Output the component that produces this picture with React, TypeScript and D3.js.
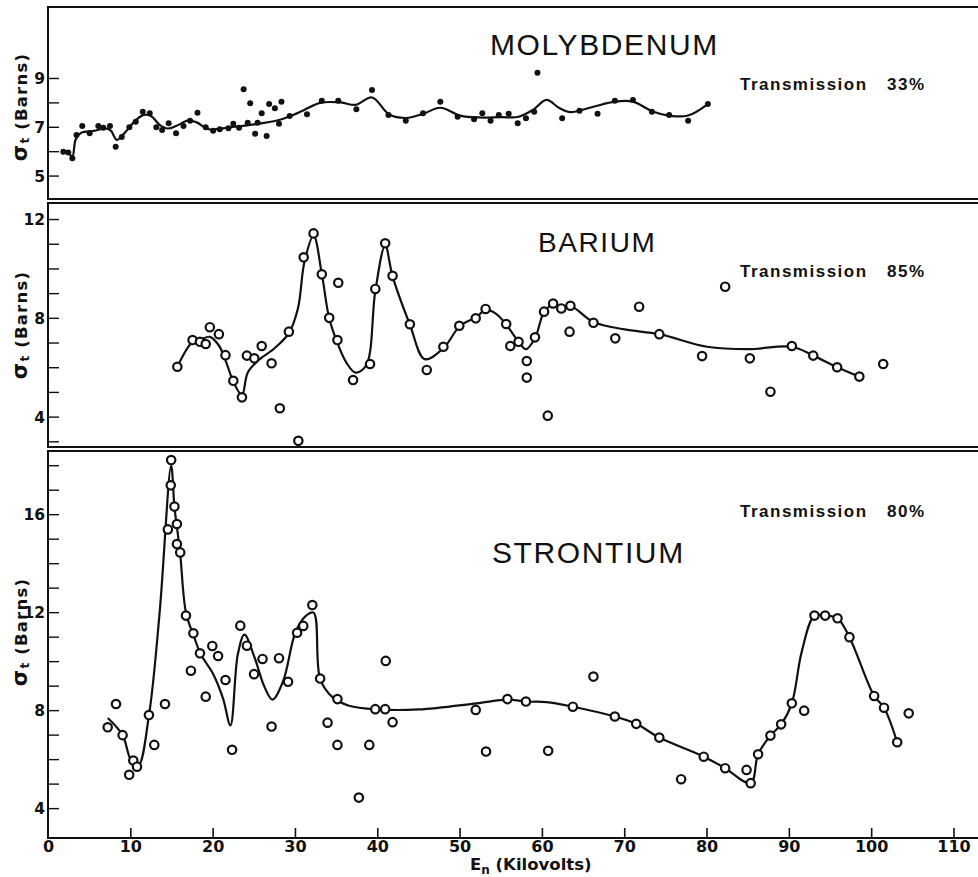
import React from "react";
import * as d3 from "d3";

const W = 978;
const H = 877;

// molybdenum: measured points (kV, barns) and the drawn fit
const moKv = [1.8, 2.4, 2.9, 3.4, 4.1, 5.0, 6.05, 6.66, 7.47, 8.16, 8.9, 9.82, 10.6, 11.45, 12.3, 13.1, 13.8, 14.6, 15.5, 16.4, 17.2, 18.1, 19.1, 20.0, 20.8, 21.85, 22.45, 23.15, 23.7, 24.2, 24.5, 25.1, 25.4, 25.9, 26.5, 26.8, 27.5, 28.0, 28.3, 29.3, 31.4, 33.2, 35.2, 37.4, 39.3, 41.3, 43.4, 45.5, 47.6, 49.7, 51.7, 52.7, 53.7, 54.7, 55.9, 57.0, 58.0, 59.0, 59.4, 62.4, 64.5, 66.7, 68.8, 71.0, 73.3, 75.4, 77.7, 80.1];
const moSigma = [6.0, 5.97, 5.73, 6.68, 7.05, 6.75, 7.05, 6.98, 7.05, 6.2, 6.6, 7.0, 7.23, 7.64, 7.57, 7.0, 6.89, 7.16, 6.75, 7.05, 7.27, 7.6, 7.0, 6.86, 6.92, 6.96, 7.14, 6.98, 8.56, 7.19, 7.98, 6.73, 7.19, 7.57, 6.64, 7.95, 7.78, 7.14, 8.05, 7.46, 7.53, 8.09, 8.09, 7.74, 8.53, 7.5, 7.27, 7.57, 8.05, 7.43, 7.33, 7.57, 7.27, 7.5, 7.55, 7.16, 7.37, 7.64, 9.24, 7.37, 7.68, 7.55, 8.09, 8.12, 7.64, 7.5, 7.27, 7.95];
const moFitKv = [1.8, 2.4, 2.9, 3.3, 4.0, 5.5, 7.0, 7.6, 8.3, 9.2, 10.5, 11.5, 12.5, 13.5, 14.5, 15.5, 17.0, 18.0, 19.5, 22, 25, 28, 29.3, 31, 33, 35.5, 37.3, 39.3, 41.4, 43.4, 45.5, 47.6, 50, 52.5, 55, 57, 58.8, 60.5, 62, 63.3, 66, 68.8, 71, 73.4, 75.5, 77.7, 80.1];
const moFitSigma = [6.0, 5.95, 5.8, 6.5, 6.78, 6.85, 6.95, 6.85, 6.48, 6.75, 7.25, 7.5, 7.45, 7.1, 6.95, 7.05, 7.28, 7.2, 6.92, 7.0, 7.12, 7.3, 7.45, 7.7, 8.0, 8.02, 7.92, 8.22, 7.52, 7.38, 7.55, 7.8, 7.48, 7.4, 7.42, 7.42, 7.7, 8.12, 7.8, 7.62, 7.82, 8.05, 8.05, 7.65, 7.47, 7.48, 7.95];

// barium
const baKv = [15.65, 17.5, 18.4, 19.1, 19.6, 20.7, 21.5, 22.45, 23.5, 24.1, 25.0, 25.9, 27.1, 28.1, 29.2, 30.35, 31.0, 32.2, 33.2, 34.1, 35.2, 35.1, 37.0, 39.06, 39.7, 40.9, 41.8, 43.9, 45.95, 47.97, 49.9, 51.9, 53.1, 55.6, 56.1, 57.1, 58.1, 58.1, 59.1, 60.2, 60.65, 61.3, 62.3, 63.4, 63.3, 66.2, 68.85, 71.75, 74.2, 79.4, 82.2, 85.2, 87.7, 90.3, 92.9, 95.8, 98.5, 101.4];
const baSigma = [6.04, 7.12, 7.05, 6.96, 7.64, 7.36, 6.51, 5.47, 4.8, 6.49, 6.38, 6.88, 6.18, 4.36, 7.46, 3.04, 10.47, 11.44, 9.78, 8.02, 9.44, 7.12, 5.5, 6.15, 9.19, 11.04, 9.72, 7.76, 5.91, 6.85, 7.7, 8.0, 8.38, 7.77, 6.88, 7.05, 6.27, 5.6, 7.23, 8.27, 4.06, 8.6, 8.4, 8.51, 7.46, 7.82, 7.19, 8.47, 7.36, 6.47, 9.28, 6.38, 5.03, 6.88, 6.49, 6.02, 5.64, 6.15];
const baFitKv = [15.65, 17.5, 18.5, 19.6, 20.7, 21.5, 22.5, 23.5, 24.2, 25.5, 27.5, 29.2, 30.3, 31.1, 32.2, 33.2, 34.1, 35.1, 36.2, 37.3, 38.6, 39.7, 40.9, 41.8, 43.9, 45.7, 48.0, 50.0, 52.0, 53.1, 54.3, 55.6, 57.1, 58.0, 59.1, 60.2, 61.3, 62.3, 63.4, 66.2, 70, 74.2, 80, 85, 90.3, 92.9, 95.8, 98.5];
const baFitSigma = [6.04, 7.05, 7.15, 7.25, 6.9, 6.3, 5.4, 4.9, 5.8, 6.3, 6.8, 7.4, 8.4, 10.3, 11.35, 9.8, 8.0, 7.0, 6.2, 5.8, 6.1, 9.1, 10.95, 9.7, 7.75, 6.35, 6.8, 7.7, 8.05, 8.35, 8.2, 7.75, 7.05, 6.75, 7.2, 8.25, 8.55, 8.4, 8.5, 7.85, 7.55, 7.36, 6.85, 6.75, 6.85, 6.49, 6.02, 5.64];

// strontium
const srKv = [7.19, 8.2, 9.0, 9.8, 10.3, 10.75, 12.2, 12.85, 14.15, 14.5, 14.9, 14.85, 15.3, 15.6, 15.6, 16.0, 16.7, 17.6, 17.3, 18.4, 19.1, 19.9, 20.6, 21.5, 22.3, 23.3, 24.1, 24.97, 26.0, 27.1, 28.0, 29.1, 30.2, 30.95, 32.05, 33.0, 33.9, 35.1, 35.1, 37.7, 38.97, 39.7, 40.9, 40.97, 41.8, 51.9, 53.15, 55.75, 58.0, 60.7, 63.7, 66.2, 68.8, 71.4, 74.2, 76.85, 79.6, 82.2, 84.8, 85.3, 86.2, 87.7, 89.0, 90.3, 91.8, 93.05, 94.35, 95.85, 97.3, 100.3, 101.5, 103.1, 104.5];
const srSigma = [7.32, 8.27, 7.0, 5.38, 5.96, 5.71, 7.82, 6.6, 8.27, 15.4, 18.23, 17.2, 16.33, 15.62, 14.8, 14.46, 11.88, 11.16, 9.63, 10.34, 8.57, 10.64, 10.23, 9.25, 6.4, 11.47, 10.65, 9.49, 10.11, 7.35, 10.14, 9.18, 11.18, 11.46, 12.31, 9.31, 7.51, 8.47, 6.6, 4.45, 6.6, 8.06, 8.06, 10.03, 7.53, 8.03, 6.33, 8.47, 8.37, 6.36, 8.16, 9.39, 7.76, 7.46, 6.9, 5.2, 6.12, 5.65, 5.58, 5.04, 6.22, 6.98, 7.44, 8.3, 8.0, 11.88, 11.88, 11.77, 11.0, 8.6, 8.12, 6.71, 7.89];
const srFitKv = [7.2, 9.0, 10.0, 10.9, 12.2, 13.5, 14.9, 15.3, 15.6, 16.0, 16.7, 17.7, 18.5, 20.0, 21.2, 22.1, 23.0, 23.8, 25.0, 26.2, 27.2, 28.5, 30.0, 31.2, 32.2, 33.0, 34.5, 36.5, 40.0, 45.0, 52.0, 55.8, 58.0, 60.5, 63.7, 68.8, 71.4, 74.2, 79.6, 82.2, 85.3, 86.2, 87.7, 89.0, 90.3, 91.5, 93.05, 94.35, 95.85, 97.3, 100.3, 101.5, 103.1];
const srFitSigma = [7.7, 7.0, 6.0, 5.75, 7.8, 12.0, 18.0, 16.3, 15.5, 14.4, 12.0, 11.0, 10.3, 9.5, 8.5, 7.4, 10.3, 11.1, 10.2, 9.0, 8.45, 9.2, 11.2, 11.85, 12.0, 9.3, 8.55, 8.2, 8.05, 8.05, 8.3, 8.45, 8.37, 8.35, 8.16, 7.76, 7.46, 6.9, 6.12, 5.65, 5.04, 6.22, 6.98, 7.44, 8.3, 10.4, 11.88, 11.88, 11.77, 11.0, 8.6, 8.12, 6.71];

const xTicks = [0, 10, 20, 30, 40, 50, 60, 70, 80, 90, 100, 110];

const frameLeft = 48;
const frameRight = 982;
const x = d3.scaleLinear().domain([0, 110]).range([48.5, 954]);

const panels = [
  {
    name: "MOLYBDENUM", trans: "33%", top: 7, bottom: 199, domain: [4.06, 11.93],
    ticks: d3.range(5, 10), labels: [5, 7, 9], kv: moKv, sigma: moSigma,
    fitKv: moFitKv, fitSigma: moFitSigma, filled: true,
    titleX: 490, titleY: 55, titleSize: 30, transY: 90, labelY: 107,
  },
  {
    name: "BARIUM", trans: "85%", top: 203, bottom: 447, domain: [2.79, 12.67],
    ticks: d3.range(3, 13), labels: [4, 8, 12], kv: baKv, sigma: baSigma,
    fitKv: baFitKv, fitSigma: baFitSigma, filled: false,
    titleX: 538, titleY: 252, titleSize: 28, transY: 277, labelY: 325,
  },
  {
    name: "STRONTIUM", trans: "80%", top: 451, bottom: 838, domain: [2.8, 18.6],
    ticks: d3.range(4, 19), labels: [4, 8, 12, 16], kv: srKv, sigma: srSigma,
    fitKv: srFitKv, fitSigma: srFitSigma, filled: false,
    titleX: 492, titleY: 563, titleSize: 30, transY: 517, labelY: 632,
  },
];

const labelFont = "'DejaVu Sans', sans-serif";
const titleFont = "'Liberation Sans', Arial, sans-serif";

function Panel({ p }: { p: (typeof panels)[number] }) {
  const y = d3.scaleLinear().domain(p.domain).range([p.bottom, p.top]);
  const line = d3
    .line<number>()
    .x((_, i) => x(p.fitKv[i]))
    .y((d) => y(d))
    .curve(d3.curveCatmullRom.alpha(0.5));

  return (
    <g>
      <rect x={frameLeft} y={p.top} width={frameRight - frameLeft} height={p.bottom - p.top}
        fill="none" stroke="#111" strokeWidth={2} />
      {p.ticks.map((t) => (
        <line key={t} x1={frameLeft} x2={frameLeft + 11} y1={y(t)} y2={y(t)} stroke="#111" strokeWidth={1.4} />
      ))}
      {p.labels.map((t) => (
        <text key={t} x={45} y={y(t)} dy="0.36em" textAnchor="end" fontFamily={labelFont}
          fontWeight="bold" fontSize={15.5} fill="#111">{t}</text>
      ))}
      <text transform={`translate(27,${p.labelY}) rotate(-90)`} textAnchor="middle"
        fontFamily={labelFont} fontWeight="bold" fontSize={16.5} fill="#111" letterSpacing={1.2}>
        <tspan fontSize={21}>σ</tspan><tspan fontSize={12} dy={2}>t</tspan><tspan dy={-2}> (Barns)</tspan>
      </text>
      <path d={line(p.fitSigma) || ""} fill="none" stroke="#111" strokeWidth={2.2} />
      {p.kv.map((k, i) => (
        <circle key={i} cx={x(k)} cy={y(p.sigma[i])} r={p.filled ? 3 : 4.2}
          fill={p.filled ? "#111" : "#fff"} stroke="#111" strokeWidth={p.filled ? 0 : 2.2} />
      ))}
      <text x={p.titleX} y={p.titleY} fontFamily={titleFont} fontSize={p.titleSize}
        letterSpacing={1.6} fill="#111">{p.name}</text>
      <text y={p.transY} fontFamily={titleFont} fontWeight="bold" fontSize={17}
        letterSpacing={1.5} fill="#111">
        <tspan x={740}>Transmission</tspan>
        <tspan x={887}>{p.trans}</tspan>
      </text>
    </g>
  );
}

export default function App() {
  const base = panels[2].bottom;
  return (
    <svg width={W} height={H} style={{ position: "absolute", left: 0, top: 0, background: "#fff" }}>
      <rect width={W} height={H} fill="#fff" />
      {panels.map((p) => (
        <Panel key={p.name} p={p} />
      ))}
      {xTicks.map((t) => (
        <g key={t}>
          {t > 0 && <line x1={x(t)} x2={x(t)} y1={base} y2={base - 10} stroke="#111" strokeWidth={1.6} />}
          <text x={x(t)} y={852} textAnchor="middle" fontFamily={labelFont} fontWeight="bold"
            fontSize={16} fill="#111">{t}</text>
        </g>
      ))}
      <text x={470} y={870} fontFamily={labelFont} fontWeight="bold" fontSize={16.5} fill="#111">
        E<tspan fontSize={12} dy={4}>n</tspan><tspan dy={-4}> (Kilovolts)</tspan>
      </text>
    </svg>
  );
}
